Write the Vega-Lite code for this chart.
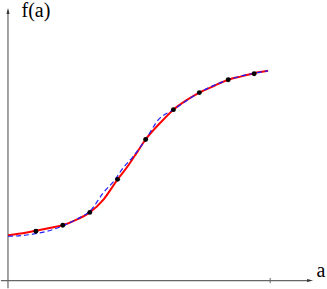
{
  "$schema": "https://vega.github.io/schema/vega-lite/v6.json",
  "width": 327,
  "height": 289,
  "padding": 0,
  "autosize": {"type": "fit", "contains": "padding"},
  "config": {"view": {"stroke": null}},
  "datasets": {
    "red": [
      {"a": 0, "f": 1.73}, {"a": 0.49, "f": 1.79}, {"a": 1.065, "f": 1.9}, {"a": 1.635, "f": 2.015},
      {"a": 2.09, "f": 2.11}, {"a": 2.62, "f": 2.32}, {"a": 3.12, "f": 2.6}, {"a": 3.65, "f": 3.1},
      {"a": 4.18, "f": 3.86}, {"a": 4.56, "f": 4.35}, {"a": 4.94, "f": 4.92}, {"a": 5.25, "f": 5.38},
      {"a": 5.82, "f": 6.03}, {"a": 6.31, "f": 6.52}, {"a": 6.81, "f": 6.88}, {"a": 7.3, "f": 7.17},
      {"a": 7.87, "f": 7.43}, {"a": 8.4, "f": 7.66}, {"a": 8.9, "f": 7.79}, {"a": 9.39, "f": 7.91},
      {"a": 9.92, "f": 8.0}
    ],
    "blue": [
      {"a": 0, "f": 1.69}, {"a": 0.49, "f": 1.71}, {"a": 1.065, "f": 1.79}, {"a": 1.635, "f": 1.92},
      {"a": 2.09, "f": 2.09}, {"a": 2.62, "f": 2.34}, {"a": 3.16, "f": 2.68}, {"a": 3.65, "f": 3.37},
      {"a": 4.03, "f": 3.78}, {"a": 4.41, "f": 4.32}, {"a": 4.75, "f": 4.7}, {"a": 5.25, "f": 5.38},
      {"a": 5.74, "f": 6.14}, {"a": 6.31, "f": 6.52}, {"a": 7.3, "f": 7.17}, {"a": 8.4, "f": 7.66},
      {"a": 9.39, "f": 7.91}, {"a": 9.92, "f": 8.0}
    ],
    "pts": [
      {"a": 1.065, "f": 1.88}, {"a": 2.09, "f": 2.11}, {"a": 3.12, "f": 2.6}, {"a": 4.18, "f": 3.86},
      {"a": 5.25, "f": 5.38}, {"a": 6.31, "f": 6.52}, {"a": 7.3, "f": 7.17}, {"a": 8.4, "f": 7.66},
      {"a": 9.39, "f": 7.89}
    ]
  },
  "layer": [
    {
      "data": {"values": [{"a": 0, "f": -0.29, "f2": 10.3}]},
      "mark": {"type": "rule", "color": "#666666", "strokeWidth": 1.2},
      "encoding": {
        "x": {"field": "a", "type": "quantitative", "scale": {"domain": [-0.266, 12.167], "nice": false, "zero": false}, "axis": null},
        "y": {"field": "f", "type": "quantitative", "scale": {"domain": [-0.285, 10.703], "nice": false, "zero": false}, "axis": null},
        "y2": {"field": "f2"}
      }
    },
    {
      "data": {"values": [{"a": -0.27, "a2": 11.5, "f": 0}]},
      "mark": {"type": "rule", "color": "#666666", "strokeWidth": 1.2},
      "encoding": {
        "x": {"field": "a", "type": "quantitative"},
        "x2": {"field": "a2"},
        "y": {"field": "f", "type": "quantitative"}
      }
    },
    {
      "data": {"values": [{"a": 10, "f": -0.1, "f2": 0.1}]},
      "mark": {"type": "rule", "color": "#666666", "strokeWidth": 1},
      "encoding": {
        "x": {"field": "a", "type": "quantitative"},
        "y": {"field": "f", "type": "quantitative"},
        "y2": {"field": "f2"}
      }
    },
    {
      "data": {"values": [{"a": 0, "f": 10.285}]},
      "mark": {"type": "point", "shape": "M0,-1L0.5,1L-0.5,1Z", "filled": true, "color": "#333333", "size": 36, "opacity": 1},
      "encoding": {
        "x": {"field": "a", "type": "quantitative"},
        "y": {"field": "f", "type": "quantitative"}
      }
    },
    {
      "data": {"values": [{"a": 11.52, "f": 0}]},
      "mark": {"type": "point", "shape": "M1,0L-1,-0.5L-1,0.5Z", "filled": true, "color": "#333333", "size": 36, "opacity": 1},
      "encoding": {
        "x": {"field": "a", "type": "quantitative"},
        "y": {"field": "f", "type": "quantitative"}
      }
    },
    {
      "data": {"name": "red"},
      "mark": {"type": "line", "color": "#ff0000", "strokeWidth": 2, "interpolate": "monotone"},
      "encoding": {
        "x": {"field": "a", "type": "quantitative"},
        "y": {"field": "f", "type": "quantitative"}
      }
    },
    {
      "data": {"name": "blue"},
      "mark": {"type": "line", "color": "#2020ff", "strokeWidth": 1.2, "strokeDash": [5, 3], "interpolate": "monotone"},
      "encoding": {
        "x": {"field": "a", "type": "quantitative"},
        "y": {"field": "f", "type": "quantitative"}
      }
    },
    {
      "data": {"name": "pts"},
      "mark": {"type": "point", "filled": true, "color": "#000000", "size": 24, "opacity": 1},
      "encoding": {
        "x": {"field": "a", "type": "quantitative"},
        "y": {"field": "f", "type": "quantitative"}
      }
    },
    {
      "data": {"values": [{"a": 1.065, "f": 10.06, "t": "f(a)"}, {"a": 11.94, "f": 0.13, "t": "a"}]},
      "mark": {"type": "text", "font": "Times New Roman, Liberation Serif, serif", "fontSize": 20, "color": "#000000", "align": "center", "baseline": "alphabetic"},
      "encoding": {
        "x": {"field": "a", "type": "quantitative"},
        "y": {"field": "f", "type": "quantitative"},
        "text": {"field": "t"}
      }
    }
  ]
}
